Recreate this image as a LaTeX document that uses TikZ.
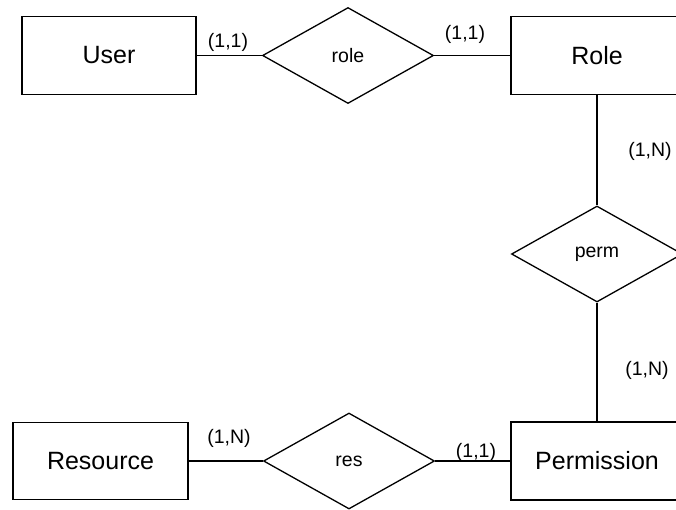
\documentclass[tikz,border=0pt]{standalone}
\usepackage{fontspec}
\setmainfont{Liberation Sans}
\usetikzlibrary{shapes.geometric}
\begin{document}
\begin{tikzpicture}[x=1pt,y=-1pt,
  entity/.style={draw, line width=1.3pt, rectangle, minimum width=174pt, minimum height=78pt, inner sep=0pt, font=\fontsize{25}{28}\selectfont},
  rel/.style={draw, line width=1.3pt, diamond, minimum width=171pt, minimum height=96pt, inner sep=0pt, font=\fontsize{19.5}{22}\selectfont},
  card/.style={inner sep=0pt, font=\fontsize{19.5}{22}\selectfont},
  conn/.style={line width=1.3pt}]
\useasboundingbox (0,0) rectangle (676,509);
\clip (0,0) rectangle (676,509);
\fill[white] (0,0) rectangle (676,509);
\node[entity] (user) at (109,55.5) {User};
\node[rel] (role) at (348,55.5) {role};
\node[entity, minimum width=172pt] (Role) at (597,55.5) {Role};
\node[rel] (perm) at (597,254) {perm};
\node[entity, minimum width=172pt] (perms) at (597,461) {Permission};
\node[rel] (res) at (349,461) {res};
\node[entity, minimum width=175pt, minimum height=77pt] (resource) at (100.5,461) {Resource};
\draw[conn] (user.east) -- (role.west);
\draw[conn] (role.east) -- (Role.west);
\draw[conn] (Role.south) -- (perm.north);
\draw[conn] (perm.south) -- (perms.north);
\draw[conn] (resource.east) -- (res.west);
\draw[conn] (res.east) -- (perms.west);
\node[card] (c1) at (228,42) {(1,1)};
\node[card] (c2) at (465,34) {(1,1)};
\node[card] (c3) at (650,151) {(1,N)};
\node[card] (c4) at (647,370) {(1,N)};
\node[card] (c5) at (476,452) {(1,1)};
\node[card] (c6) at (229,438) {(1,N)};
\end{tikzpicture}
\end{document}
